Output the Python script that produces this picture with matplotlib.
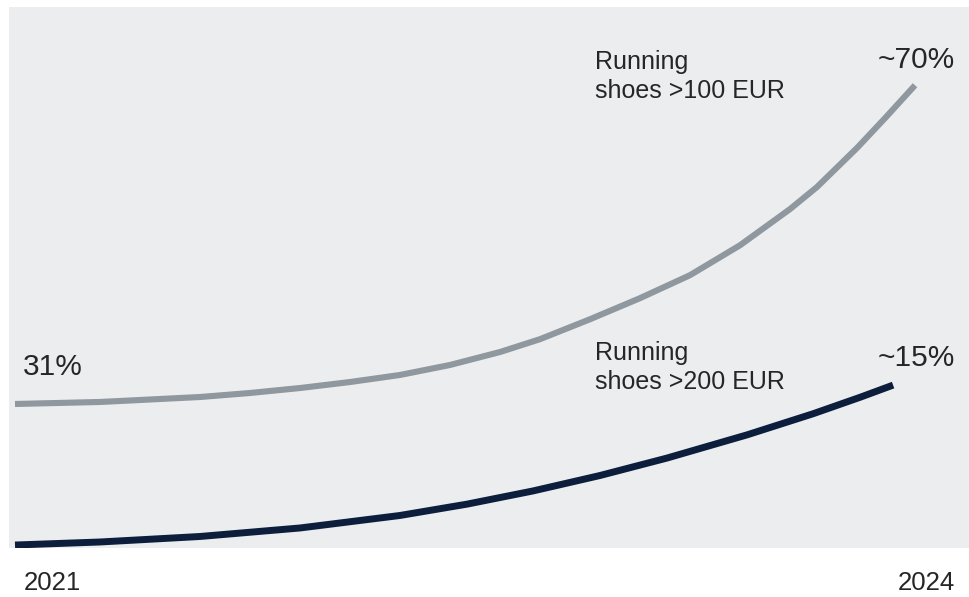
import numpy as np
import matplotlib.pyplot as plt

# curve data (x in years, y as index 0-100 of the panel height)
grey_years = [2021.0, 2021.283, 2021.617, 2021.783, 2021.95, 2022.117, 2022.283, 2022.45,
              2022.617, 2022.75, 2022.917, 2023.083, 2023.25, 2023.417, 2023.583,
              2023.673, 2023.807, 2023.903, 2024.0]
grey_vals = [26.62, 26.99, 27.91, 28.65, 29.57, 30.68, 31.98, 33.83, 36.23, 38.60, 42.29,
             46.17, 50.43, 55.97, 62.63, 66.71, 73.96, 79.63, 85.53]

navy_years = [2021.0, 2021.283, 2021.617, 2021.95, 2022.283, 2022.507, 2022.727, 2022.95,
              2023.173, 2023.44, 2023.66, 2023.817, 2023.927]
navy_vals = [0.55, 1.11, 2.13, 3.70, 6.01, 8.11, 10.55, 13.40, 16.62, 20.91, 24.81, 27.86, 30.11]

start_label = "31%"
grey_end_label = "~70%"
navy_end_label = "~15%"
grey_name = "Running\nshoes >100 EUR"
navy_name = "Running\nshoes >200 EUR"
year_labels = ["2021", "2024"]

W, H = 969, 597
bg = "#ECEDEF"
grey = "#8F979F"
navy = "#0C1E3C"
txt = "#262626"

plt.rcParams['font.family'] = ['Liberation Sans', 'DejaVu Sans']

fig = plt.figure(figsize=(W / 100, H / 100), dpi=100)
fig.patch.set_facecolor("white")
ax = fig.add_axes([9 / W, (H - 548) / H, 960 / W, 541 / H])
ax.set_facecolor(bg)
ax.plot(grey_years, grey_vals, color=grey, lw=4.4, solid_capstyle="butt", solid_joinstyle="round")
ax.plot(navy_years, navy_vals, color=navy, lw=5.0, solid_capstyle="butt", solid_joinstyle="round")
ax.set_xlim(2021 - 6 / 300, 2021 + 954 / 300)
ax.set_ylim(0, 100)
ax.set_xticks([])
ax.set_yticks([])
for s in ax.spines.values():
    s.set_visible(False)


def px(x, y):
    return x / W, 1 - y / H


fig.text(*px(23, 375), start_label, fontsize=21.5, color=txt, va="baseline", ha="left")
fig.text(*px(955, 68), grey_end_label, fontsize=21.5, color=txt, va="baseline", ha="right")
fig.text(*px(955, 366), navy_end_label, fontsize=21.5, color=txt, va="baseline", ha="right")
for i, line in enumerate(grey_name.split("\n")):
    fig.text(*px(595, 69 + 29 * i), line, fontsize=18, color=txt, va="baseline", ha="left")
for i, line in enumerate(navy_name.split("\n")):
    fig.text(*px(595, 360 + 29 * i), line, fontsize=18, color=txt, va="baseline", ha="left")
fig.text(*px(24, 590), year_labels[0], fontsize=18.5, color=txt, va="baseline", ha="left")
fig.text(*px(955, 590), year_labels[1], fontsize=18.5, color=txt, va="baseline", ha="right")

fig.savefig("out.png", dpi=100, facecolor="white")
